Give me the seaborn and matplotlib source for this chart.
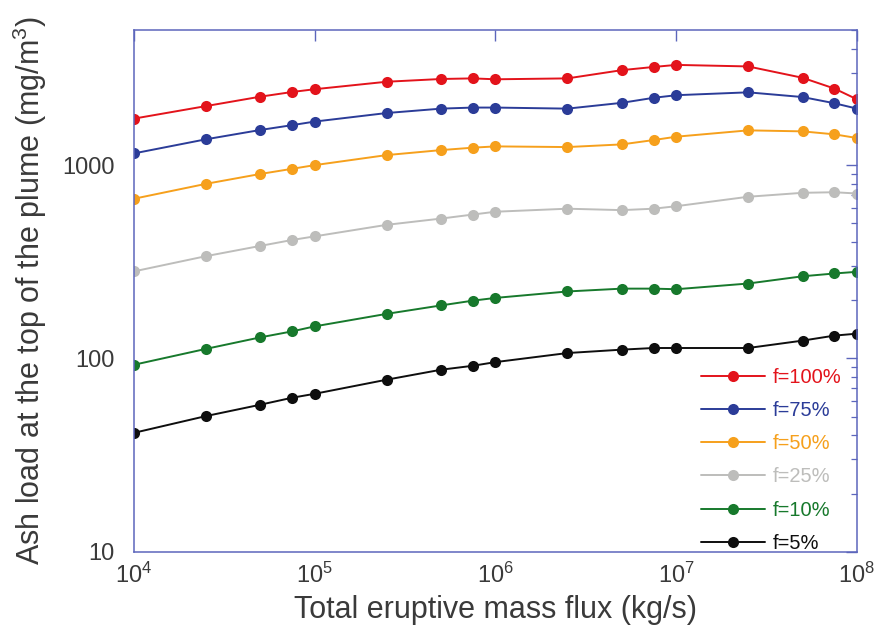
import matplotlib
matplotlib.use("Agg")
import matplotlib.pyplot as plt
import matplotlib.ticker as mticker
import numpy as np
import pandas as pd
import seaborn as sns

# ---- data ----
mass_flux = [1e4, 2.5e4, 5e4, 7.5e4, 1e5, 2.5e5, 5e5, 7.5e5, 1e6,
             2.5e6, 5e6, 7.5e6, 1e7, 2.5e7, 5e7, 7.5e7, 1e8]
f100 = [1740, 2020, 2260, 2390, 2470, 2700, 2790, 2810, 2780,
        2810, 3100, 3220, 3300, 3240, 2830, 2490, 2190]
f75 = [1150, 1360, 1520, 1610, 1680, 1860, 1960, 1985, 1985,
       1960, 2100, 2230, 2300, 2380, 2250, 2090, 1960]
f50 = [670, 800, 900, 957, 1000, 1127, 1196, 1231, 1250,
       1240, 1280, 1348, 1403, 1513, 1495, 1443, 1381]
f25 = [282, 338, 382, 410, 428, 491, 529, 555, 574,
       595, 585, 595, 613, 686, 719, 724, 713]
f10 = [92.7, 112, 128.5, 138, 146.5, 170, 188, 199, 205.6,
       222, 229.6, 229.6, 228, 244, 266, 275, 280.6]
f5 = [41.2, 50.3, 57.6, 62.6, 65.6, 77.6, 87.4, 91.6, 95.7,
      106.6, 111, 113.2, 113.2, 113.2, 123.6, 131.2, 134.3]

series_labels = ["f=100%", "f=75%", "f=50%", "f=25%", "f=10%", "f=5%"]
series_values = [f100, f75, f50, f25, f10, f5]
colors = ["#E3131B", "#2B3C98", "#F6A01C", "#BDBDBB", "#17792C", "#0E0E0E"]
ytick_values = [10, 100, 1000]
ytick_labels = ["10", "100", "1000"]

df = pd.concat([
    pd.DataFrame({"flux": mass_flux, "load": vals, "series": lab})
    for lab, vals in zip(series_labels, series_values)
], ignore_index=True)

# ---- style ----
sns.set_style("white")
plt.rcParams["font.family"] = ["Liberation Sans", "DejaVu Sans"]
plt.rcParams["mathtext.fontset"] = "custom"
plt.rcParams["mathtext.rm"] = "Liberation Sans"
plt.rcParams["mathtext.it"] = "Liberation Sans:italic"
plt.rcParams["mathtext.bf"] = "Liberation Sans:bold"

spine_col = "#5C66BC"
text_col = "#3A3A3A"

fig = plt.figure(figsize=(8.75, 6.28), dpi=100)
ax = fig.add_axes([0.1531, 0.1215, 0.8263, 0.8307])

sns.lineplot(data=df, x="flux", y="load", hue="series",
             hue_order=series_labels, palette=colors,
             marker="o", markersize=8, markeredgewidth=0,
             linewidth=1.4, ax=ax, legend=True)

ax.set_xscale("log")
ax.set_yscale("log")
ax.set_xlim(1e4, 1e8)
ax.set_ylim(10, 5000)

ax.xaxis.set_major_locator(mticker.LogLocator(base=10, numticks=10))
ax.xaxis.set_minor_locator(mticker.NullLocator())
ax.yaxis.set_major_locator(mticker.FixedLocator(ytick_values))
ax.yaxis.set_major_formatter(mticker.FixedFormatter(ytick_labels))
ax.yaxis.set_minor_locator(mticker.LogLocator(base=10, subs=np.arange(2, 10), numticks=20))
ax.yaxis.set_minor_formatter(mticker.NullFormatter())

for s in ax.spines.values():
    s.set_color(spine_col)
    s.set_linewidth(1.1)
    s.set_visible(True)

ax.tick_params(which="both", direction="in", top=True, right=True,
               color=spine_col, labelcolor=text_col)
ax.tick_params(which="major", length=8, width=1.0)
ax.tick_params(which="minor", length=4.5, width=0.9)
ax.tick_params(axis="x", which="major", labelsize=17, pad=8)
ax.tick_params(axis="y", which="major", labelsize=17, pad=14)

ax.set_xlabel("Total eruptive mass flux (kg/s)", fontsize=22, color=text_col)
ax.set_ylabel("Ash load at the top of the plume (mg/m$^3$)", fontsize=22, color=text_col)
ax.xaxis.set_label_coords(0.5, -0.083)
ax.yaxis.set_label_coords(-0.118, 0.5)

leg = ax.legend(loc="lower right", bbox_to_anchor=(0.995, -0.025),
                frameon=False, fontsize=14.5, handlelength=3.2,
                handletextpad=0.35, labelspacing=0.7, borderaxespad=0.2)
for txt, c in zip(leg.get_texts(), colors):
    txt.set_color(c)

fig.savefig("out.png", dpi=100)
